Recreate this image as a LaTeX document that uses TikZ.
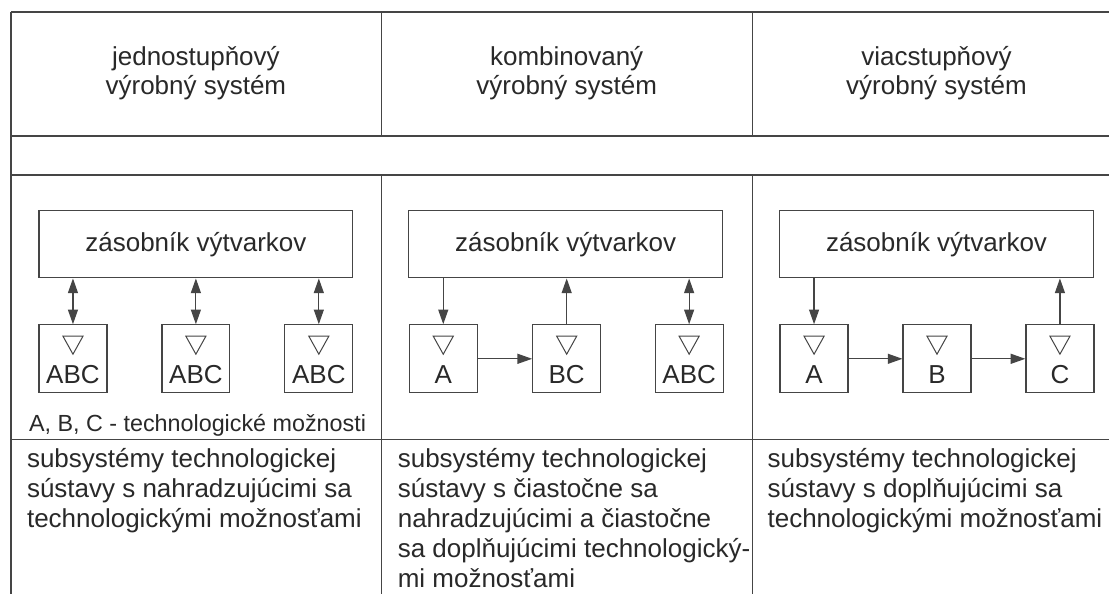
\documentclass[tikz,border=0pt]{standalone}
\usepackage{fontspec}
\setmainfont{Liberation Sans}
\usetikzlibrary{arrows.meta}
\definecolor{mtext}{rgb}{0.16, 0.16, 0.16}
\definecolor{mline}{rgb}{0.27, 0.27, 0.27}

\begin{document}
\begin{tikzpicture}[x=0.75pt, y=-0.75pt, line width=0.9pt, color=mline, text=mtext,
    >={Triangle[length=11pt, width=7.5pt]},
    font=\fontsize{19.5}{22.5}\selectfont,
    zas/.style={draw, minimum width=235.5pt, minimum height=50.25pt, inner sep=0pt},
    kat/.style={draw, minimum width=51pt, minimum height=51pt, inner sep=0pt, text height=44.25pt, text depth=6.75pt},
    hlav/.style={align=center, anchor=base, font=\fontsize{19.5}{21.75}\selectfont},
    popis/.style={align=left, anchor=base west}]
    \fill [white] (0, 0) rectangle (1110, 594);

    \draw (11, 12) -- (1110, 12);
    \draw (11, 136) -- (1110, 136);
    \draw (11, 175) -- (1110, 175);
    \draw (11, 440) -- (1110, 440);
    \draw (11, 12) -- (11, 594);
    \draw (382, 12) -- (382, 136) (382, 175) -- (382, 594);
    \draw (753, 12) -- (753, 136) (753, 175) -- (753, 594);

    \node [hlav] (h1) at (196, 95) {jednostupňový\\výrobný systém};
    \node [hlav] (h2) at (567, 95) {kombinovaný\\výrobný systém};
    \node [hlav] (h3) at (937, 95) {viacstupňový\\výrobný systém};

    \node [zas] (s1) at (196, 244.5) {zásobník výtvarkov};
    \node [zas] (s2) at (566, 244.5) {zásobník výtvarkov};
    \node [zas] (s3) at (937, 244.5) {zásobník výtvarkov};

    \node [kat] (1a) at (73, 359) {ABC};
    \node [kat] (1b) at (196, 359) {ABC};
    \node [kat] (1c) at (319, 359) {ABC};
    \node [kat] (2a) at (443.5, 359) {A};
    \node [kat] (2bc) at (567, 359) {BC};
    \node [kat] (2abc) at (689.5, 359) {ABC};
    \node [kat] (3a) at (814.5, 359) {A};
    \node [kat] (3b) at (937.5, 359) {B};
    \node [kat] (3c) at (1060.5, 359) {C};

    \foreach \n in {1a, 1b, 1c, 2a, 2bc, 2abc, 3a, 3b, 3c}
        \draw [line width=0.75pt] (\n.north) ++(-10, 12) -- ++(20, 0) -- ++(-10, 18) -- cycle;

    \draw [<->] (1a.north) -- (1a.north |- s1.south);
    \draw [<->] (1b.north) -- (1b.north |- s1.south);
    \draw [<->] (1c.north) -- (1c.north |- s1.south);

    \draw [->] (2a.north |- s2.south) -- (2a.north);
    \draw [->] (2bc.north) -- (2bc.north |- s2.south);
    \draw [<->] (2abc.north) -- (2abc.north |- s2.south);
    \draw [->] (2a) -- (2bc);

    \draw [->] (3a.north |- s3.south) -- (3a.north);
    \draw [->] (3c.north) -- (3c.north |- s3.south);
    \draw [->] (3a) -- (3b);
    \draw [->] (3b) -- (3c);

    \node [popis, font=\fontsize{17.5}{21}\selectfont] (n) at (24, 432) {A, B, C - technologické možnosti};

    \node [popis] (d1) at (22, 528) {subsystémy technologickej\\sústavy s nahradzujúcimi sa\\technologickými možnosťami};
    \node [popis] (d2) at (393, 588) {subsystémy technologickej\\sústavy s čiastočne sa\\nahradzujúcimi a čiastočne\\sa doplňujúcimi technologický-\\mi možnosťami};
    \node [popis] (d3) at (763, 528) {subsystémy technologickej\\sústavy s doplňujúcimi sa\\technologickými možnosťami};
\end{tikzpicture}
\end{document}
